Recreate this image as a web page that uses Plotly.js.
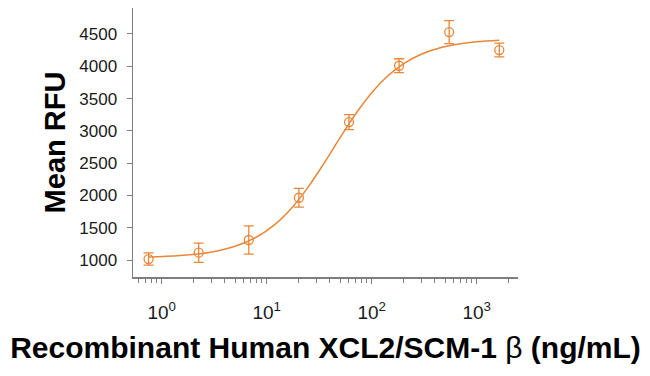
<!DOCTYPE html>
<html>
<head>
<meta charset="utf-8">
<script src="https://cdn.plot.ly/plotly-3.0.1.min.js"></script>
<style>html,body{margin:0;padding:0;background:#fff;}#chart{width:650px;height:376px;}</style>
</head>
<body>
<div id="chart"></div>
<script>
// Measured points (dose in ng/mL, mean RFU, error)
var doses = [0.75, 2.25, 6.75, 20.25, 60.75, 182.25, 546.75, 1640.25];
var rfu = [1015, 1113, 1310, 1964, 3136, 4008, 4529, 4251];
var rfuErr = [95, 150, 218, 144, 116, 108, 178, 106];

// Fitted curve
var curveX = [0.75, 1.5, 3, 5, 8, 12, 18, 25, 35, 50, 70, 100, 140, 200, 300, 450, 700, 1000, 1640];
var curveY = [1045, 1068, 1125, 1213, 1356, 1553, 1838, 2137, 2493, 2895, 3257, 3591, 3841, 4038, 4190, 4286, 4348, 4379, 4403];

// Tick labels
var xTickVals = [1, 10, 100, 1000];
var xTickText = ['10<sup>0</sup>', '10<sup>1</sup>', '10<sup>2</sup>', '10<sup>3</sup>'];
var yTickVals = [1000, 1500, 2000, 2500, 3000, 3500, 4000, 4500];

var orange = '#E8873A';
var axisGray = '#7f7f7f';
var tickFont = {family: 'Liberation Sans Narrow, Liberation Sans, Arial, sans-serif', color: '#1a1a1a'};

var traces = [
  {x: curveX, y: curveY, type: 'scatter', mode: 'lines', line: {color: orange, width: 1.5, shape: 'spline', smoothing: 1}, hoverinfo: 'skip'},
  {x: doses, y: rfu, type: 'scatter', mode: 'markers',
   marker: {symbol: 'circle-open', size: 9, color: orange, line: {width: 1.3, color: orange}},
   error_y: {type: 'data', array: rfuErr, visible: true, color: orange, thickness: 1.3, width: 5}}
];

var layout = {
  width: 650, height: 376,
  margin: {l: 133, r: 132, t: 8, b: 99},
  paper_bgcolor: '#fff', plot_bgcolor: '#fff',
  showlegend: false,
  xaxis: {
    type: 'log', range: [Math.log10(0.533), Math.log10(2473)],
    tickvals: xTickVals, ticktext: xTickText,
    ticks: 'outside', ticklen: 5, tickcolor: axisGray, tickwidth: 1,
    minor: {ticks: 'outside', ticklen: 4, tickcolor: axisGray, dtick: 'D1'},
    showgrid: false, zeroline: false,
    showline: true, linecolor: axisGray, linewidth: 1.5,
    tickfont: Object.assign({size: 19}, tickFont),
    ticklabelstandoff: 13,
    title: {text: 'Recombinant Human XCL2/SCM-1 <span style="font-weight:normal">β</span> (ng/mL)',
            font: {family: 'Liberation Sans, Arial, sans-serif', size: 30, color: '#000', weight: 'bold'}, standoff: 14}
  },
  yaxis: {
    range: [737, 4902],
    tickvals: yTickVals,
    ticks: 'outside', ticklen: 5, tickcolor: axisGray, tickwidth: 1,
    showgrid: false, zeroline: false,
    showline: true, linecolor: axisGray, linewidth: 1.5,
    tickfont: Object.assign({size: 17}, tickFont),
    ticklabelstandoff: 6,
    title: {text: 'Mean RFU', font: {family: 'Liberation Sans, Arial, sans-serif', size: 29, color: '#000', weight: 'bold'}, standoff: 5}
  }
};

Plotly.newPlot('chart', traces, layout, {staticPlot: true, displayModeBar: false});
</script>
</body>
</html>
